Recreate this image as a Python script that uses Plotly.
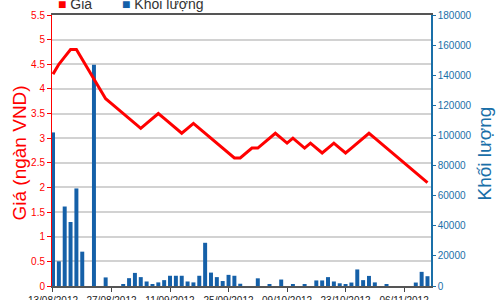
import plotly.graph_objects as go

dates = [
    "13/08/2012", "14/08/2012", "15/08/2012", "16/08/2012", "17/08/2012",
    "20/08/2012", "21/08/2012", "22/08/2012", "23/08/2012", "24/08/2012",
    "27/08/2012", "28/08/2012", "29/08/2012", "30/08/2012", "31/08/2012",
    "04/09/2012", "05/09/2012", "06/09/2012", "07/09/2012", "10/09/2012",
    "11/09/2012", "12/09/2012", "13/09/2012", "14/09/2012", "17/09/2012",
    "18/09/2012", "19/09/2012", "20/09/2012", "21/09/2012", "24/09/2012",
    "25/09/2012", "26/09/2012", "27/09/2012", "28/09/2012", "01/10/2012",
    "02/10/2012", "03/10/2012", "04/10/2012", "05/10/2012", "08/10/2012",
    "09/10/2012", "10/10/2012", "11/10/2012", "12/10/2012", "15/10/2012",
    "16/10/2012", "17/10/2012", "18/10/2012", "19/10/2012", "22/10/2012",
    "23/10/2012", "24/10/2012", "25/10/2012", "26/10/2012", "29/10/2012",
    "30/10/2012", "31/10/2012", "01/11/2012", "02/11/2012", "05/11/2012",
    "06/11/2012", "07/11/2012", "08/11/2012", "09/11/2012", "12/11/2012",
]

price = [
    4.3, 4.5, 4.65, 4.8, 4.8, 4.6, 4.4, 4.2, 4.0, 3.8,
    3.7, 3.6, 3.5, 3.4, 3.3, 3.2, 3.3, 3.4, 3.5, 3.4,
    3.3, 3.2, 3.1, 3.2, 3.3, 3.2, 3.1, 3.0, 2.9, 2.8,
    2.7, 2.6, 2.6, 2.7, 2.8, 2.8, 2.9, 3.0, 3.1, 3.0,
    2.9, 3.0, 2.9, 2.8, 2.9, 2.8, 2.7, 2.8, 2.9, 2.8,
    2.7, 2.8, 2.9, 3.0, 3.1, 3.0, 2.9, 2.8, 2.7, 2.6,
    2.5, 2.4, 2.3, 2.2, 2.1,
]

volume = [
    102000, 16400, 52800, 42500, 64800, 22800, 0, 147000, 0, 5700,
    0, 0, 900, 5200, 8700, 5900, 3000, 1100, 2400, 3900,
    6800, 6800, 6800, 3000, 2400, 6800, 28700, 8900, 5900, 3300,
    7400, 6800, 1500, 0, 0, 5100, 0, 900, 0, 4300,
    0, 900, 0, 900, 0, 3700, 3700, 5900, 3000, 1800,
    1000, 2300, 11000, 3900, 6700, 2400, 0, 900, 0, 0,
    0, 0, 2300, 9400, 6500,
]

tick_labels = dates[::10]

RED = "#ff0000"
BLUE = "#1a6fa8"
BAR = "#1560a8"
TICKFONT = "Liberation Sans, Arial, sans-serif"
MAINFONT = "Liberation Sans, Arial, sans-serif"

fig = go.Figure()

fig.add_trace(go.Bar(
    x=dates, y=volume, name="Khối lượng", yaxis="y",
    marker=dict(color=BAR, line=dict(width=0)), width=0.68,
    showlegend=False,
))
fig.add_trace(go.Scatter(
    x=dates, y=price, name="Giá", yaxis="y2", mode="lines",
    line=dict(color=RED, width=3), showlegend=False,
))

L, R, T, B = 52, 69, 15, 14
W, H = 500, 300
pw, ph = W - L - R, H - T - B

def px_x(x):
    return (x - L) / pw

def px_y(y):
    return (H - B - y) / ph

fig.update_layout(
    width=W, height=H,
    margin=dict(l=L, r=R, t=T, b=B, pad=0, autoexpand=False),
    paper_bgcolor="white", plot_bgcolor="white",
    xaxis=dict(
        type="category", range=[-0.17, 64.6], automargin=False,
        tickmode="array", tickvals=tick_labels, ticktext=tick_labels,
        tickangle=0,
        showgrid=False, zeroline=False,
        showline=True, linecolor="#555555", linewidth=2, mirror=True,
        ticks="outside", ticklen=4, tickcolor="#444444",
        tickfont=dict(family=TICKFONT, size=10, color="#222222"),
    ),
    yaxis=dict(
        side="right", range=[0, 180000], dtick=20000, tickformat="d",
        automargin=False,
        showgrid=False, zeroline=False,
        showline=True, linecolor=BLUE, linewidth=1.5,
        ticks="outside", ticklen=3, tickcolor=BLUE,
        tickfont=dict(family=TICKFONT, size=10, color=BLUE),
    ),
    yaxis2=dict(
        side="left", overlaying="y", range=[0, 5.5], dtick=0.5,
        automargin=False,
        showgrid=True, gridcolor="#d2d2d2", gridwidth=1.5, zeroline=False,
        showline=True, linecolor=RED, linewidth=1,
        ticks="outside", ticklen=4, tickcolor=RED,
        tickfont=dict(family=TICKFONT, size=10, color=RED),
    ),
    annotations=[
        dict(text="Giá (ngàn VND)", textangle=-90, xref="paper", yref="paper",
             x=px_x(19), y=px_y(153.5), xanchor="center", yanchor="middle",
             showarrow=False, font=dict(family=MAINFONT, size=19, color=RED)),
        dict(text="Khối lượng", textangle=-90, xref="paper", yref="paper",
             x=px_x(484), y=px_y(153.5), xanchor="center", yanchor="middle",
             showarrow=False, font=dict(family=MAINFONT, size=19, color=BLUE)),
        dict(text="<span style='color:%s'>■</span> Giá" % RED, xref="paper", yref="paper",
             x=px_x(56), y=px_y(4), xanchor="left", yanchor="middle",
             showarrow=False, font=dict(family=MAINFONT, size=14, color="#333333")),
        dict(text="<span style='color:%s'>■</span> Khối lượng" % BAR, xref="paper", yref="paper",
             x=px_x(120), y=px_y(4), xanchor="left", yanchor="middle",
             showarrow=False, font=dict(family=MAINFONT, size=14, color="#333333")),
    ],
)

fig.write_html("out.html")
